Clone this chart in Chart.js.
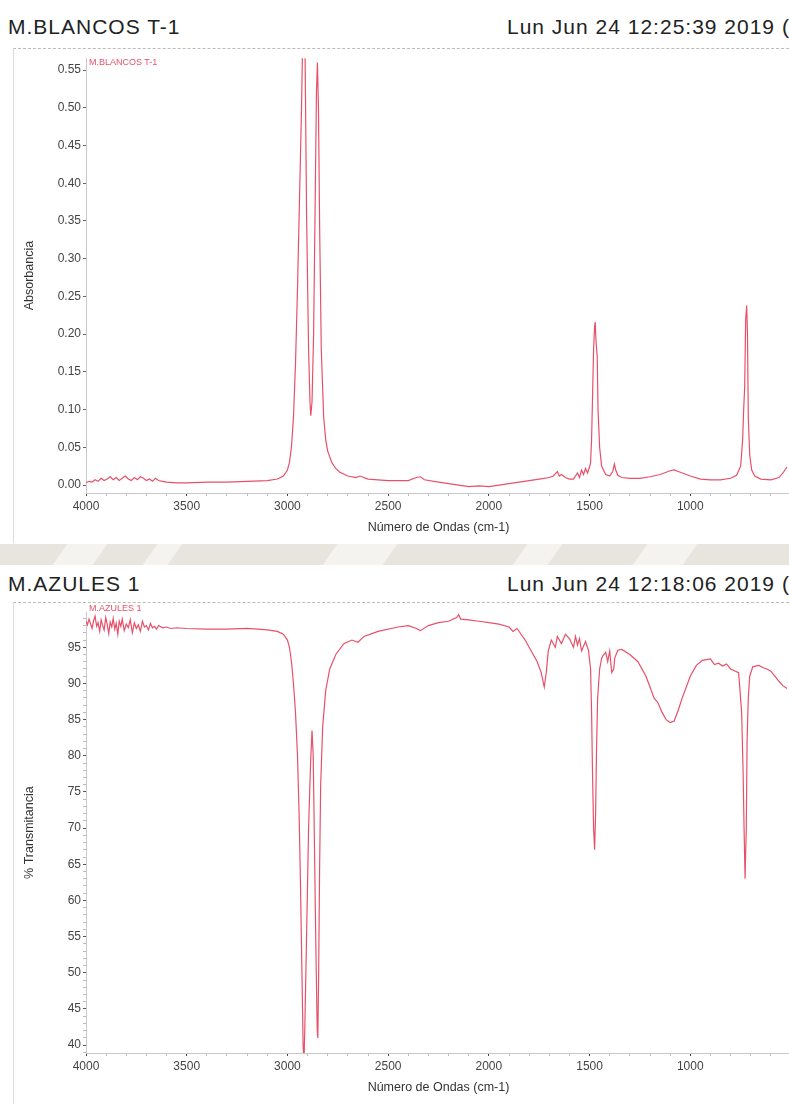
<!DOCTYPE html>
<html>
<head>
<meta charset="utf-8">
<script src="https://cdn.jsdelivr.net/npm/chart.js@4"></script>
<style>
    body {
        margin: 0;
        width: 789px;
        height: 1104px;
        overflow: hidden;
        position: relative;
        background: #fff;
        font-family: "Liberation Sans", Arial, sans-serif;
    }
    .title {
        position: absolute;
        font-size: 21px;
        line-height: 21px;
        letter-spacing: 1px;
        color: #222;
        white-space: nowrap;
    }
    .panel {
        position: absolute;
        left: 13px;
        width: 800px;
        border-left: 1px solid #ddd;
        border-top: 1px dashed #bbb;
    }
    .inlabel {
        position: absolute;
        font-size: 9px;
        color: #e8506a;
        white-space: nowrap;
    }
    canvas { position: absolute; }
    #band {
        position: absolute;
        left: 0; top: 544px; width: 789px; height: 21px;
        background: #e7e5de;
        overflow: hidden;
    }
    #band div {
        position: absolute;
        top: 0; height: 21px;
        background: #f4f3ef;
        transform: skewX(-35deg);
    }
</style>
</head>
<body>

<div class="title" style="left:8px; top:16px;">M.BLANCOS T-1</div>
<div class="title" style="left:507px; top:16px;">Lun Jun 24 12:25:39 2019 (</div>
<div class="panel" style="top:48px; height:494px;"></div>
<canvas id="topChart" width="782" height="492" style="left:14px; top:49px;"></canvas>
<div class="inlabel" style="left:89px; top:57px;">M.BLANCOS T-1</div>

<div id="band">
    <div style="left:60px; width:40px;"></div>
    <div style="left:150px; width:25px;"></div>
    <div style="left:330px; width:60px;"></div>
    <div style="left:520px; width:35px;"></div>
    <div style="left:640px; width:50px;"></div>
</div>

<div class="title" style="left:8px; top:573px;">M.AZULES 1</div>
<div class="title" style="left:507px; top:573px;">Lun Jun 24 12:18:06 2019 (</div>
<div class="panel" style="top:602px; height:502px;"></div>
<canvas id="bottomChart" width="782" height="498" style="left:14px; top:603px;"></canvas>
<div class="inlabel" style="left:89px; top:603px;">M.AZULES 1</div>

<script>
// spectra

const xLabelValues = [4000, 3500, 3000, 2500, 2000, 1500, 1000];

const topWavenumbers = [
    4000, 3985, 3970, 3955, 3940, 3925, 3910, 3895, 3880, 3865, 3850, 3835, 3820, 3805, 3790,
    3775, 3760, 3745, 3730, 3715, 3700, 3685, 3670, 3655, 3640, 3620, 3600, 3550, 3500, 3400,
    3300, 3200, 3100, 3050, 3020, 3000,
    2990, 2980, 2970, 2960, 2950, 2940, 2930, 2925, 2918, 2912, 2905, 2895, 2888, 2884, 2878,
    2870, 2862, 2856, 2851, 2846, 2840, 2832, 2820, 2810, 2800, 2780, 2760, 2740, 2700, 2660,
    2640, 2600, 2500, 2400, 2360, 2340, 2320, 2250, 2200, 2150, 2100, 2050, 2000, 1950, 1900,
    1850, 1800, 1750, 1700, 1680, 1660, 1650, 1640, 1620, 1600, 1580, 1560, 1550, 1540, 1530,
    1520, 1510, 1500, 1495, 1490, 1485, 1480, 1475, 1472, 1468, 1462, 1458, 1450, 1440, 1420,
    1400, 1385, 1377, 1370, 1360, 1340, 1300, 1250, 1200, 1150, 1100, 1080, 1060, 1000, 950,
    900, 850, 800, 770, 750, 740, 735, 730, 725, 720, 716, 712, 705, 695, 680,
    650, 600, 560, 540, 520
];

const topAbsorbance = [
    0.003, 0.005, 0.004, 0.007, 0.005, 0.009, 0.006, 0.008, 0.011, 0.007, 0.010, 0.006, 0.009, 0.012, 0.008,
    0.006, 0.010, 0.007, 0.011, 0.009, 0.006, 0.008, 0.005, 0.009, 0.006, 0.005, 0.004, 0.003, 0.003, 0.004,
    0.004, 0.005, 0.006, 0.008, 0.012, 0.020,
    0.030, 0.050, 0.090, 0.160, 0.260, 0.380, 0.500, 0.580, 0.620, 0.560, 0.360, 0.180, 0.110, 0.092, 0.110,
    0.200, 0.380, 0.520, 0.560, 0.500, 0.340, 0.180, 0.090, 0.060, 0.045, 0.030, 0.022, 0.017, 0.012, 0.010,
    0.012, 0.008, 0.006, 0.006, 0.010, 0.011, 0.007, 0.004, 0.002, 0.000, -0.002, -0.001, -0.002, 0.000, 0.002,
    0.004, 0.006, 0.008, 0.010, 0.012, 0.018, 0.012, 0.014, 0.010, 0.008, 0.008, 0.016, 0.010, 0.020, 0.014,
    0.022, 0.016, 0.024, 0.030, 0.060, 0.120, 0.180, 0.210, 0.216, 0.190, 0.170, 0.100, 0.050, 0.025, 0.014,
    0.012, 0.018, 0.028, 0.020, 0.013, 0.010, 0.009, 0.009, 0.011, 0.014, 0.019, 0.020, 0.018, 0.012, 0.008,
    0.007, 0.007, 0.009, 0.013, 0.025, 0.060, 0.100, 0.130, 0.220, 0.238, 0.200, 0.090, 0.040, 0.020, 0.012,
    0.008, 0.007, 0.010, 0.016, 0.024
];

const bottomWavenumbers = [
    4000, 3993, 3985, 3978, 3970, 3962, 3955, 3947, 3940, 3932, 3925, 3917, 3910, 3902, 3895,
    3887, 3880, 3872, 3865, 3857, 3850, 3842, 3835, 3827, 3820, 3810, 3800, 3790, 3780, 3770,
    3760, 3750, 3740, 3730, 3720, 3710, 3700, 3690, 3680, 3670, 3660, 3650, 3640, 3620, 3600,
    3580, 3550, 3500, 3400, 3300, 3200, 3100, 3050, 3020, 3000, 2990, 2980, 2970, 2960, 2950,
    2942, 2935, 2928, 2922, 2918, 2914, 2905, 2895, 2885, 2878, 2872, 2865, 2858, 2852, 2849,
    2845, 2840, 2835, 2825, 2810, 2790, 2760, 2720, 2680, 2650, 2620, 2550, 2450, 2400, 2360,
    2340, 2300, 2250, 2200, 2160, 2150, 2140, 2100, 2050, 2000, 1950, 1900, 1880, 1860, 1840,
    1820, 1800, 1780, 1760, 1740, 1725, 1715, 1705, 1690, 1670, 1660, 1640, 1620, 1600, 1580,
    1570, 1560, 1550, 1540, 1520, 1505, 1495, 1490, 1485, 1480, 1475, 1470, 1466, 1460, 1450,
    1440, 1430, 1420, 1410, 1400, 1390, 1380, 1375, 1360, 1340, 1300, 1260, 1220, 1200, 1180,
    1160, 1140, 1120, 1100, 1080, 1060, 1040, 1000, 970, 940, 900, 880, 860, 840, 820,
    800, 760, 745, 738, 733, 728, 722, 718, 712, 705, 690, 660, 640, 620, 600,
    580, 560, 540, 520
];

const bottomTransmittance = [
    98.6, 98.1, 98.9, 98.3, 97.6, 98.7, 99.3, 97.9, 98.4, 97.2, 98.8, 98.0, 97.4, 99.1, 98.2,
    96.9, 98.5, 97.8, 99.0, 97.5, 98.3, 96.8, 98.6, 97.9, 98.9, 97.3, 98.2, 97.7, 98.8, 97.0,
    98.4, 97.6, 98.1, 97.2, 98.6, 97.8, 98.0, 97.4, 98.3, 97.7, 97.9, 97.5, 98.0, 97.7, 97.8,
    97.6, 97.7, 97.6, 97.5, 97.5, 97.6, 97.4, 97.2, 96.8, 96.0, 95.0, 93.0, 90.0, 86.0, 80.0,
    72.0, 62.0, 50.0, 40.0, 37.5, 42.0, 55.0, 70.0, 79.0, 83.5, 80.0, 66.0, 52.0, 42.0, 41.0,
    50.0, 65.0, 76.0, 84.0, 89.0, 92.0, 94.0, 95.5, 96.0, 95.7, 96.5, 97.2, 97.8, 98.0, 97.6,
    97.3, 98.0, 98.4, 98.6, 99.1, 99.5, 98.9, 98.8, 98.6, 98.4, 98.2, 97.8, 97.2, 97.6, 96.8,
    96.0, 95.0, 94.0, 93.0, 91.5, 89.5, 91.5, 94.5, 96.0, 95.0, 96.5, 95.5, 96.8, 96.2, 95.0,
    96.5, 95.3, 96.2, 94.5, 95.8, 94.5, 92.0, 86.0, 77.0, 70.0, 67.0, 72.0, 80.0, 88.0, 92.0,
    93.5, 94.0, 94.3, 93.0, 94.5, 91.5, 92.0, 93.5, 94.6, 94.7, 94.0, 93.0, 91.0, 89.5, 88.0,
    87.3, 86.0, 85.0, 84.6, 84.8, 86.3, 88.0, 91.0, 92.5, 93.2, 93.4, 92.6, 92.8, 92.4, 92.7,
    92.0, 91.5, 86.0, 78.0, 70.0, 63.0, 70.0, 82.0, 88.0, 91.0, 92.3, 92.5, 92.2, 92.0, 91.7,
    91.0, 90.3, 89.7, 89.3
];

const LINE_COLOR = "#e8506a";

function toPoints(xs, ys) {
    return xs.map((x, i) => ({ x: x, y: ys[i] }));
}

function makeXScale() {
    return {
        type: "linear",
        reverse: true,
        min: 500,
        max: 4000,
        afterFit: scale => { scale.height = 48; },
        border: { color: "#c8c8c8", dash: [2, 3] },
        grid: {
            drawOnChartArea: false,
            tickLength: 3,
            tickColor: ctx => (ctx.tick && ctx.tick.value % 500 === 0) ? "#444" : "#bbb"
        },
        ticks: {
            stepSize: 100,
            autoSkip: false,
            maxRotation: 0,
            padding: 3,
            color: "#444",
            font: { family: "Liberation Sans", size: 12 },
            callback: value => xLabelValues.includes(value) ? String(value) : ""
        },
        title: {
            display: true,
            text: "Número de Ondas (cm-1)",
            color: "#333",
            font: { family: "Liberation Sans", size: 12.5 },
            padding: { top: 4, bottom: 6 }
        }
    };
}

function drawTopChart() {
    new Chart(document.getElementById("topChart"), {
        type: "line",
        data: {
            datasets: [{
                label: "M.BLANCOS T-1",
                data: toPoints(topWavenumbers, topAbsorbance),
                borderColor: LINE_COLOR,
                borderWidth: 1.2,
                pointRadius: 0,
                tension: 0
            }]
        },
        options: {
            responsive: false,
            animation: false,
            devicePixelRatio: 1,
            layout: { padding: { top: 1, right: 5, left: 0, bottom: 0 } },
            plugins: { legend: { display: false }, tooltip: { enabled: false } },
            scales: {
                x: makeXScale(),
                y: {
                    min: -0.0105,
                    max: 0.5657,
                    afterFit: scale => { scale.width = 72; },
                    border: { color: "#c8c8c8", dash: [2, 3] },
                    grid: { drawOnChartArea: false, tickLength: 3, tickColor: "#666" },
                    ticks: {
                        stepSize: 0.05,
                        includeBounds: false,
                        padding: 2,
                        color: "#444",
                        font: { family: "Liberation Sans", size: 12 },
                        callback: value => value.toFixed(2)
                    },
                    title: {
                        display: true,
                        text: "Absorbancia",
                        color: "#333",
                        font: { family: "Liberation Sans", size: 12.5 },
                        padding: { top: 8, bottom: 0 }
                    }
                }
            }
        }
    });
}

function drawBottomChart() {
    new Chart(document.getElementById("bottomChart"), {
        type: "line",
        data: {
            datasets: [{
                label: "M.AZULES 1",
                data: toPoints(bottomWavenumbers, bottomTransmittance),
                borderColor: LINE_COLOR,
                borderWidth: 1.2,
                pointRadius: 0,
                tension: 0
            }]
        },
        options: {
            responsive: false,
            animation: false,
            devicePixelRatio: 1,
            layout: { padding: { top: 1, right: 5, left: 0, bottom: 0 } },
            plugins: { legend: { display: false }, tooltip: { enabled: false } },
            scales: {
                x: makeXScale(),
                y: {
                    min: 38.91,
                    max: 99.85,
                    afterFit: scale => { scale.width = 72; },
                    border: { color: "#c8c8c8", dash: [2, 3] },
                    grid: {
                        drawOnChartArea: false,
                        tickLength: 3,
                        tickColor: ctx => (ctx.tick && Math.round(ctx.tick.value) % 5 === 0) ? "#555" : "#bbb"
                    },
                    ticks: {
                        stepSize: 1,
                        autoSkip: false,
                        includeBounds: false,
                        padding: 2,
                        color: "#444",
                        font: { family: "Liberation Sans", size: 12 },
                        callback: value => (Math.abs(value - Math.round(value)) < 1e-6 && Math.round(value) % 5 === 0) ? String(Math.round(value)) : ""
                    },
                    title: {
                        display: true,
                        text: "% Transmitancia",
                        color: "#333",
                        font: { family: "Liberation Sans", size: 12.5 },
                        padding: { top: 8, bottom: 0 }
                    }
                }
            }
        }
    });
}

drawTopChart();
drawBottomChart();
</script>
</body>
</html>
